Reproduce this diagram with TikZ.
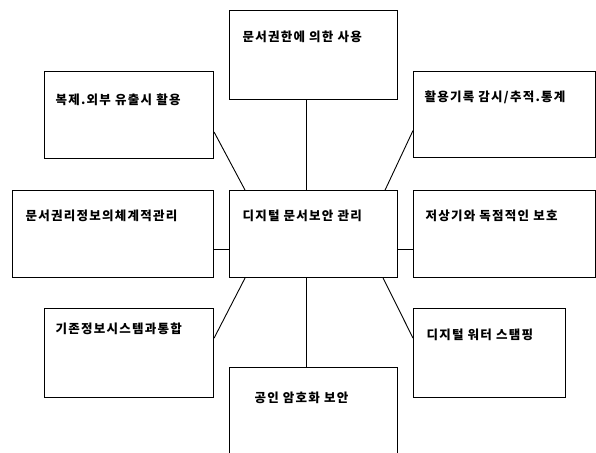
\documentclass[tikz,border=0pt]{standalone}
\usepackage{fontspec}
\setmainfont{Noto Sans CJK KR}[LetterSpace=10]
\usepackage{tikz}
\usetikzlibrary{positioning, calc}

\begin{document}
\begin{tikzpicture}[
    x=1pt, y=1pt,
    box/.style={rectangle, draw, line width=1.1pt, anchor=north west, inner ysep=0pt, align=left, font=\bfseries\fontsize{12.5}{14}\selectfont},
    link/.style={draw, line width=0.9pt},
]
    \useasboundingbox (0,0) rectangle (596,-452);
    % ring of boxes round the hub
    \node[box, inner xsep=13pt, text width=142pt, text height=31pt, text depth=58pt] (use) at (229,-10) {문서권한에 의한 사용};
    \node[box, inner xsep=11pt, text width=147pt, text height=33pt, text depth=54pt] (leak) at (44,-71) {복제.외부 유출시 활용};
    \node[box, inner xsep=11pt, text width=160pt, text height=30pt, text depth=56pt] (log) at (413,-71) {활용기록 감시/추적.통계};
    \node[box, inner xsep=13pt, text width=175pt, text height=30pt, text depth=57pt] (rights) at (12,-190) {문서권리정보의체계적관리};
    \node[box, inner xsep=13pt, text width=142pt, text height=30pt, text depth=57pt] (hub) at (229,-190) {디지털 문서보안 관리};
    \node[box, inner xsep=12pt, text width=158pt, text height=30pt, text depth=57pt] (protect) at (413,-190) {저상기와 독점적인 보호};
    \node[box, inner xsep=11pt, text width=147pt, text height=25pt, text depth=64pt] (integ) at (44,-308) {기존정보시스템과통합};
    \node[box, inner xsep=13pt, text width=126pt, text height=31pt, text depth=58pt] (mark) at (413,-308) {디지털 워터 스탬핑};
    \node[box, inner xsep=25pt, text width=118pt, text height=35pt, text depth=60pt] (crypto) at (229,-367) {공인 암호화 보안};
    % spokes
    \draw[link] ([xshift=-7pt]use.south) -- ([xshift=-7pt]hub.north);
    \draw[link] ([yshift=-17pt]leak.east) -- ([xshift=16pt]hub.north west);
    \draw[link] ([yshift=-16pt]log.west) -- ([xshift=-13pt]hub.north east);
    \draw[link] ([yshift=-15pt]rights.east) -- ([yshift=-15pt]hub.west);
    \draw[link] ([yshift=-15pt]protect.west) -- ([yshift=-15pt]hub.east);
    \draw[link] ([yshift=15pt]integ.east) -- ([xshift=16pt]hub.south west);
    \draw[link] ([yshift=15pt]mark.west) -- ([xshift=-15pt]hub.south east);
    \draw[link] ([xshift=-7pt]hub.south) -- ([xshift=-7pt]crypto.north);
\end{tikzpicture}
\end{document}
